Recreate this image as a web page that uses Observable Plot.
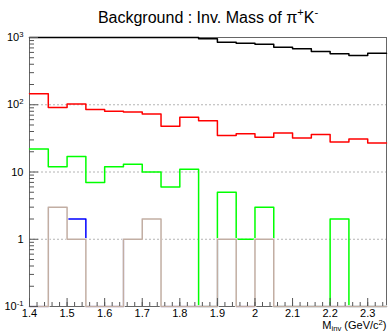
<!DOCTYPE html>
<html>
<head>
<meta charset="utf-8">
<script src="https://cdn.jsdelivr.net/npm/d3@7"></script>
<script src="https://cdn.jsdelivr.net/npm/@observablehq/plot@0.6"></script>
<style>
  body { margin: 0; background: #fff; }
  #chart svg { display: block; }
</style>
</head>
<body>
<div id="chart"></div>
<script>
// Lower edges of the invariant-mass bins (GeV/c^2), 0.05 wide
const massBins = [1.40, 1.45, 1.50, 1.55, 1.60, 1.65, 1.70, 1.75, 1.80, 1.85,
                  1.90, 1.95, 2.00, 2.05, 2.10, 2.15, 2.20, 2.25, 2.30];
const binWidth = 0.05;

// Counts per bin for each background contribution
const totalCounts   = [1000, 1000, 1000, 1000, 1000, 1000, 1000, 1000, 1000, 957,
                       851, 823, 795, 717, 679, 619, 572, 540, 584];
const redCounts     = [146, 91, 103, 85, 80, 78, 73, 48, 65, 58,
                       35, 37, 33, 38, 32, 36, 28, 31, 27];
const greenCounts   = [22, 12, 17, 7, 12, 13, 10, 6, 11, 0,
                       5, 1, 3, 0, 0, 0, 2, 0, 0];
const blueCounts    = [0, 3, 2, 0, 0, 1, 2, 0, 0, 0,
                       1, 0, 1, 0, 0, 0, 0, 0, 0];
const brownCounts   = [0, 3, 1, 0, 0, 1, 2, 0, 0, 0,
                       1, 0, 1, 0, 0, 0, 0, 0, 0];

// Axis ticks and labels
const yTicks = [0.1, 1, 10, 100, 1000];
const yTickLabels = ["10^{-1}", "1", "10", "10^{2}", "10^{3}"];
const yMinorTicks = [0.2, 0.3, 0.4, 0.5, 0.6, 0.7, 0.8, 0.9,
                     2, 3, 4, 5, 6, 7, 8, 9,
                     20, 30, 40, 50, 60, 70, 80, 90,
                     200, 300, 400, 500, 600, 700, 800, 900];
const xTicks = [1.4, 1.5, 1.6, 1.7, 1.8, 1.9, 2.0, 2.1, 2.2, 2.3];
const xTickLabels = ["1.4", "1.5", "1.6", "1.7", "1.8", "1.9", "2", "2.1", "2.2", "2.3"];
const xMinorTicks = d3.range(0, 48).map(i => +(1.4 + i * 0.02).toFixed(2));
const gridValues = [1, 10, 100];

const titleText = "Background : Inv. Mass of π^{+}K^{-}";
const xTitle = "M_{inv} (GeV/c^{2})";

const yFloor = 0.1;
const xMax = massBins[massBins.length - 1] + binWidth;

// Histogram contour: across the top of each bin, with steps between bins
function outline(counts) {
  const pts = counts.map((c, i) => ({x: massBins[i], y: Math.max(c, yFloor)}));
  pts.push({x: xMax, y: Math.max(counts[counts.length - 1], yFloor)});
  return pts;
}

function histLine(counts, color, width = 1.5) {
  return Plot.line(outline(counts), {
    x: "x", y: "y", curve: "step-after",
    stroke: color, strokeWidth: width
  });
}

const font = "'Liberation Sans', Arial, Helvetica, sans-serif";
const tickColor = "#555";
const brown = "#c2aea3";

const chart = Plot.plot({
  width: 388,
  height: 332,
  marginLeft: 29,
  marginRight: 2,
  marginTop: 37,
  marginBottom: 26,
  style: {fontFamily: font, fontSize: "11px", color: "#000", background: "#fff"},
  x: {domain: [1.4, xMax]},
  y: {type: "log", domain: [yFloor, 1000]},
  marks: [
    Plot.gridY(gridValues, {stroke: "#b4b4b4", strokeOpacity: 1, strokeDasharray: "2,2"}),
    Plot.frame({stroke: "#666"}),
    histLine(totalCounts, "#000"),
    histLine(redCounts, "#ff0000"),
    histLine(greenCounts, "#00ff00"),
    histLine(blueCounts, "#0000ff"),
    // white halo under the brown contour so the stacked blue one does not bleed through
    histLine(brownCounts, "#fff", 2.6),
    histLine(brownCounts, brown),
    // y axis: minor and major ticks pointing into the frame, then labels
    Plot.axisY(yMinorTicks, {tickSize: -5, fill: "none", stroke: tickColor, label: null}),
    Plot.axisY(yTicks, {tickSize: -9, fill: "none", stroke: tickColor, label: null}),
    Plot.axisY(yTicks, {tickSize: 0, tickPadding: 6, label: null,
      tickFormat: v => yTickLabels[yTicks.indexOf(v)]}),
    // x axis
    Plot.axisX(xMinorTicks, {tickSize: -4, fill: "none", stroke: tickColor, label: null}),
    Plot.axisX(xTicks, {tickSize: -8, fill: "none", stroke: tickColor, label: null}),
    Plot.axisX(xTicks, {tickSize: 0, tickPadding: 3, label: null,
      tickFormat: v => xTickLabels[xTicks.indexOf(v)]}),
    // titles
    Plot.text([titleText], {frameAnchor: "top", lineAnchor: "bottom", dy: -15,
      fontSize: 16, fill: "#000"}),
    Plot.text([xTitle], {frameAnchor: "bottom-right", textAnchor: "end",
      lineAnchor: "bottom", dy: 22.5, fontSize: 11, fill: "#000"})
  ]
});

document.getElementById("chart").appendChild(chart);

// Turn ^{..} and _{..} markup into superscript / subscript tspans
function applyScripts(svg) {
  const NS = "http://www.w3.org/2000/svg";
  svg.querySelectorAll("text").forEach(t => {
    const s = t.textContent;
    if (!/[\^_]\{/.test(s)) return;
    const fs = parseFloat(getComputedStyle(t).fontSize) || 11;
    t.textContent = "";
    let shift = 0;
    const add = (str, off, small) => {
      if (!str) return;
      const sp = document.createElementNS(NS, "tspan");
      sp.textContent = str;
      if (off - shift !== 0) sp.setAttribute("dy", off - shift);
      shift = off;
      if (small) sp.setAttribute("font-size", (fs * 0.7).toFixed(1));
      t.appendChild(sp);
    };
    const re = /([\^_])\{([^}]*)\}/g;
    let last = 0, m;
    while ((m = re.exec(s))) {
      add(s.slice(last, m.index), 0, false);
      add(m[2], m[1] === "^" ? -0.4 * fs : 0.15 * fs, true);
      last = re.lastIndex;
    }
    add(s.slice(last), 0, false);
  });
}
applyScripts(chart);
</script>
</body>
</html>
